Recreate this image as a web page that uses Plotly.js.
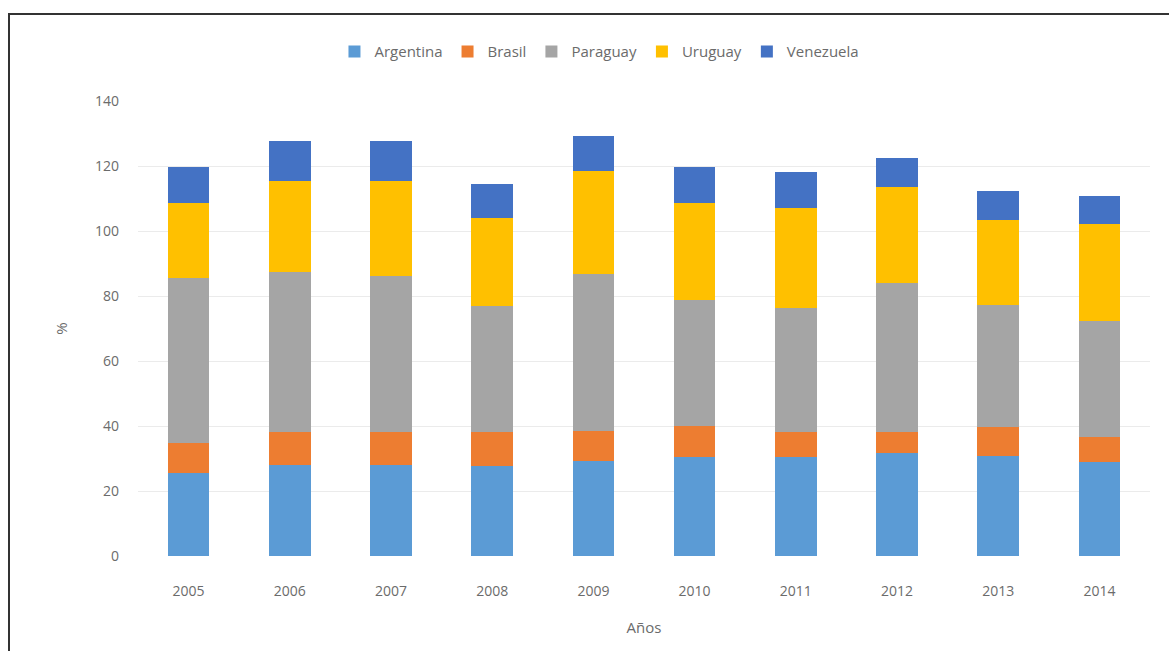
<!DOCTYPE html>
<html>
<head>
<meta charset="utf-8">
<script src="https://cdn.plot.ly/plotly-3.0.1.min.js"></script>
<style>
  html, body { margin: 0; padding: 0; background: #fff; }
  #wrap { position: relative; width: 1169px; height: 651px; overflow: hidden; }
  #chart { width: 1169px; height: 651px; }
  #frame { position: absolute; left: 8px; top: 13px; width: 1200px; height: 700px;
           border-top: 2px solid #333; border-left: 2px solid #333; pointer-events: none; }
</style>
</head>
<body>
<div id="wrap">
  <div id="chart"></div>
  <div id="frame"></div>
</div>
<script>
const years = ['2005','2006','2007','2008','2009','2010','2011','2012','2013','2014'];
const argentina = [25.4, 28.0, 28.0, 27.7, 29.3, 30.4, 30.4, 31.6, 30.8, 29.0];
const brasil    = [9.5, 10.2, 10.2, 10.5, 9.3, 9.6, 7.8, 6.6, 9.0, 7.7];
const paraguay  = [50.5, 49.3, 48.0, 38.8, 48.2, 38.8, 38.0, 45.7, 37.4, 35.7];
const uruguay   = [23.3, 28.0, 29.3, 27.1, 31.7, 29.7, 30.8, 29.7, 26.2, 29.8];
const venezuela = [10.9, 12.2, 12.2, 10.3, 10.8, 11.3, 11.1, 9.0, 9.0, 8.6];
const yTicks = [0, 20, 40, 60, 80, 100, 120, 140];

const seriesNames = ['Argentina', 'Brasil', 'Paraguay', 'Uruguay', 'Venezuela'];
const seriesData = [argentina, brasil, paraguay, uruguay, venezuela];
const seriesColors = ['#5B9BD5', '#ED7D31', '#A5A5A5', '#FFC000', '#4472C4'];

const fontFam = '"Open Sans", sans-serif';
const txtColor = '#6b6b6b';
const traces = seriesNames.map((n, i) => ({
  type: 'bar', name: n, x: years, y: seriesData[i],
  marker: { color: seriesColors[i] }, hoverinfo: 'x+y+name'
}));

const layout = {
  width: 1169, height: 651,
  margin: { l: 138, r: 19, t: 101, b: 95 },
  barmode: 'stack', bargap: 0.59,
  paper_bgcolor: '#fff', plot_bgcolor: '#fff',
  font: { family: fontFam, color: txtColor, size: 14 },
  showlegend: true,
  legend: { orientation: 'h', x: 0.456, xanchor: 'center', y: 1.108, yanchor: 'middle',
            font: { size: 15, color: txtColor }, traceorder: 'normal' },
  xaxis: { type: 'category', range: [-0.5, 9.5], showgrid: false, zeroline: false,
           showline: false, ticks: '', ticklabelstandoff: 25,
           tickfont: { size: 14, color: txtColor },
           title: { text: 'Años', standoff: 23, font: { size: 15, color: txtColor } } },
  yaxis: { range: [0, 140], tickvals: yTicks, ticktext: yTicks.map(String),
           showgrid: true, gridcolor: '#EBEBEB', gridwidth: 1, zeroline: false,
           showline: false, ticks: '', ticklabelstandoff: 18,
           tickfont: { size: 14, color: txtColor },
           title: { text: '%', standoff: 23, font: { size: 15, color: txtColor } } }
};

Plotly.newPlot('chart', traces, layout, { displayModeBar: false, staticPlot: true });
</script>
</body>
</html>
